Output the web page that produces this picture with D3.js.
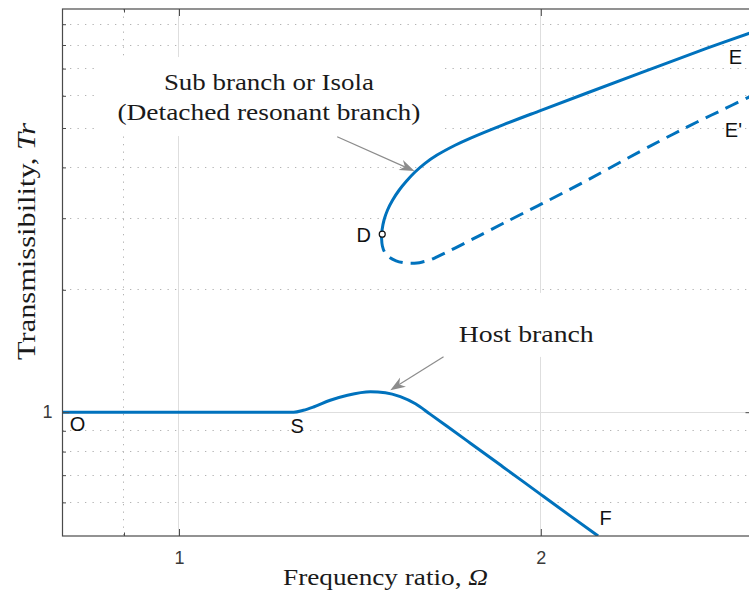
<!DOCTYPE html>
<html>
<head>
<meta charset="utf-8">
<script src="https://cdn.jsdelivr.net/npm/d3@7"></script>
<style>
  html, body { margin: 0; padding: 0; background: #fff; }
  svg { display: block; }
</style>
</head>
<body>
<svg id="chart" width="749" height="598"></svg>
<script>
// ---- axis limits and ticks (log–log) ----
const xLimits = [0.8, 3];
const yLimits = [0.496, 9.81];
const xMajorTicks = [1, 2];
const xMinorTicks = [0.9];
const yMajorTicks = [1];
const yMinorTicks = [0.6, 0.7, 0.8, 0.9, 2, 3, 4, 5, 6, 7, 8, 9];

// ---- host branch O–S–F ----
const hostOmega = [0.8, 1.2455, 1.269, 1.294, 1.336, 1.381, 1.443, 1.485, 1.528, 1.573, 1.6177, 1.6700, 1.7464, 1.8603, 2.0007, 2.1145, 2.2319];
const hostTr    = [1.0, 1.0, 1.011, 1.030, 1.070, 1.101, 1.123, 1.117, 1.092, 1.0486, 0.9892, 0.9247, 0.8403, 0.7335, 0.6269, 0.5566, 0.496];

// ---- isola: stable part D–E ----
const isolaStableOmega = [1.4741, 1.4755, 1.4811, 1.4911, 1.5058, 1.5249, 1.5464, 1.5717, 1.6021, 1.6394, 1.6970, 1.7464, 1.8603, 2.0007, 2.1849, 2.4182, 2.7502, 3.0];
const isolaStableTr    = [2.6822, 2.8064, 2.9698, 3.1427, 3.3256, 3.5194, 3.7034, 3.8970, 4.0937, 4.2895, 4.5353, 4.7166, 5.0914, 5.5264, 6.0954, 6.8191, 7.8572, 8.6096];

// ---- isola: unstable part D–E' ----
const isolaUnstableOmega = [1.4741, 1.4764, 1.4834, 1.4969, 1.5156, 1.5361, 1.5569, 1.5779, 1.5961, 1.6177, 1.6394, 1.6646, 1.6970, 1.7354, 1.7802, 1.8614, 2.0007, 2.1849, 2.4182, 2.5763, 2.6981, 2.8355, 2.9743, 3.0];
const isolaUnstableTr    = [2.6822, 2.5632, 2.4705, 2.4015, 2.3570, 2.3331, 2.3238, 2.3278, 2.3436, 2.3690, 2.4097, 2.4621, 2.5329, 2.6203, 2.7231, 2.9148, 3.2475, 3.7182, 4.3766, 4.8274, 5.1728, 5.5514, 5.9420, 6.0165];

// ---- saddle-node point D ----
const pointD = [1.476, 2.74];

// ---- point labels (baseline-left anchor in data units) ----
const pointLabels     = ["O", "S", "D", "E", "E'", "F"];
const pointLabelOmega = [0.811, 1.238, 1.405, 2.866, 2.845, 2.238];
const pointLabelTr    = [0.898, 0.888, 2.620, 7.184, 4.750, 0.527];

// ---- callouts ----
const calloutLines  = [["Sub branch or Isola", "(Detached resonant branch)"], ["Host branch"]];
const calloutAnchor = [[1.188, 6.199], [1.945, 1.489]];            // centre of first baseline
const calloutTail   = [[1.354, 4.758], [1.660, 1.368]];
const calloutTip    = [[1.570, 3.917], [1.499, 1.133]];

// ================= drawing =================
const W = 749, H = 598;
const plot = { left: 62.5, right: 752.5, top: 9, bottom: 536 };
const serif = "'Liberation Serif', 'Times New Roman', serif";
const sans = "'Liberation Sans', Arial, Helvetica, sans-serif";
const blue = "#0072bd";

const x = d3.scaleLog().domain(xLimits).range([plot.left, plot.right]);
const y = d3.scaleLog().domain(yLimits).range([plot.bottom, plot.top]);
const snap = v => Math.round(v - 0.5) + 0.5;

const svg = d3.select("#chart");
svg.append("rect").attr("width", W).attr("height", H).attr("fill", "#fff");

svg.append("defs").append("clipPath").attr("id", "plot-clip")
  .append("rect")
  .attr("x", plot.left).attr("y", plot.top)
  .attr("width", plot.right - plot.left).attr("height", plot.bottom - plot.top);

// ---- grid ----
const grid = svg.append("g").attr("clip-path", "url(#plot-clip)");
grid.selectAll("line.vminor").data(xMinorTicks).join("line")
  .attr("class", "vminor")
  .attr("x1", d => snap(x(d))).attr("x2", d => snap(x(d)))
  .attr("y1", plot.top).attr("y2", plot.bottom)
  .attr("stroke", "#b3b3b3").attr("stroke-width", 1).attr("stroke-dasharray", "1.3 6.2");
grid.selectAll("line.hminor").data(yMinorTicks).join("line")
  .attr("class", "hminor")
  .attr("x1", plot.left).attr("x2", plot.right)
  .attr("y1", d => snap(y(d))).attr("y2", d => snap(y(d)))
  .attr("stroke", "#b3b3b3").attr("stroke-width", 1).attr("stroke-dasharray", "1.3 6.2");
grid.selectAll("line.vmajor").data(xMajorTicks).join("line")
  .attr("class", "vmajor")
  .attr("x1", d => snap(x(d))).attr("x2", d => snap(x(d)))
  .attr("y1", plot.top).attr("y2", plot.bottom)
  .attr("stroke", "#dedede").attr("stroke-width", 1);
grid.selectAll("line.hmajor").data(yMajorTicks).join("line")
  .attr("class", "hmajor")
  .attr("x1", plot.left).attr("x2", plot.right)
  .attr("y1", d => snap(y(d))).attr("y2", d => snap(y(d)))
  .attr("stroke", "#dedede").attr("stroke-width", 1);

// ---- callout text with white backing boxes ----
const calloutWidths = [[210, 303], [135]];
const calloutPad = [{ l: 18, r: 20, t: 12, b: 11 }, { l: 18, r: 18, t: 28, b: 10 }];
const callouts = svg.append("g");
calloutLines.forEach((lines, i) => {
  const g = callouts.append("g");
  const box = g.append("rect").attr("fill", "#fff");
  const tg = g.append("g");
  lines.forEach((s, j) => {
    tg.append("text")
      .attr("x", x(calloutAnchor[i][0]))
      .attr("y", y(calloutAnchor[i][1]) + j * 30)
      .attr("text-anchor", "middle")
      .attr("font-family", serif).attr("font-size", 24).attr("fill", "#1a1a1a")
      .attr("textLength", calloutWidths[i][j]).attr("lengthAdjust", "spacingAndGlyphs")
      .text(s);
  });
  const bb = tg.node().getBBox();
  const p = calloutPad[i];
  box.attr("x", bb.x - p.l).attr("y", bb.y - p.t)
     .attr("width", bb.width + p.l + p.r).attr("height", bb.height + p.t + p.b);
});

// ---- curves ----
const curves = svg.append("g").attr("clip-path", "url(#plot-clip)");
const lineMono = d3.line().x(d => x(d[0])).y(d => y(d[1])).curve(d3.curveMonotoneX);
const lineSmooth = d3.line().x(d => x(d[0])).y(d => y(d[1])).curve(d3.curveCatmullRom.alpha(0.5));

curves.append("path").datum(d3.zip(hostOmega, hostTr))
  .attr("d", lineMono).attr("fill", "none")
  .attr("stroke", blue).attr("stroke-width", 3).attr("stroke-linejoin", "round");
curves.append("path").datum(d3.zip(isolaStableOmega, isolaStableTr))
  .attr("d", lineSmooth).attr("fill", "none")
  .attr("stroke", blue).attr("stroke-width", 3).attr("stroke-linejoin", "round");
curves.append("path").datum(d3.zip(isolaUnstableOmega, isolaUnstableTr))
  .attr("d", lineSmooth).attr("fill", "none")
  .attr("stroke", blue).attr("stroke-width", 3).attr("stroke-dasharray", "14 8");

// ---- callout arrows ----
function arrowHead(tip, tail, len, half) {
  const dx = tip[0] - tail[0], dy = tip[1] - tail[1];
  const l = Math.hypot(dx, dy), ux = dx / l, uy = dy / l, nx = -uy, ny = ux;
  const bx = tip[0] - ux * len, by = tip[1] - uy * len;
  const mx = tip[0] - ux * len * 0.7, my = tip[1] - uy * len * 0.7;
  return { d: `M${tip[0]},${tip[1]}L${bx + nx * half},${by + ny * half}L${mx},${my}L${bx - nx * half},${by - ny * half}Z`, notch: [mx, my] };
}
const arrows = svg.append("g");
calloutTail.forEach((t, i) => {
  const tail = [x(t[0]), y(t[1])];
  const tip = [x(calloutTip[i][0]), y(calloutTip[i][1])];
  const head = arrowHead(tip, tail, 15, 5.5);
  arrows.append("line")
    .attr("x1", tail[0]).attr("y1", tail[1]).attr("x2", head.notch[0]).attr("y2", head.notch[1])
    .attr("stroke", "#8c8c8c").attr("stroke-width", 1.2);
  arrows.append("path").attr("d", head.d).attr("fill", "#8c8c8c");
});

// ---- marker at D ----
svg.append("circle")
  .attr("cx", x(pointD[0])).attr("cy", y(pointD[1])).attr("r", 3)
  .attr("fill", "#fff").attr("stroke", "#111").attr("stroke-width", 1.2);

// ---- point labels ----
svg.append("g").selectAll("text").data(pointLabels).join("text")
  .attr("x", (d, i) => x(pointLabelOmega[i]))
  .attr("y", (d, i) => y(pointLabelTr[i]))
  .attr("font-family", sans).attr("font-size", 20).attr("fill", "#111")
  .text(d => d);

// ---- axes: frame, ticks pointing inward ----
const axisColor = "#4a4a4a";
function styleAxis(g) {
  g.select(".domain").remove();
  g.selectAll(".tick line").attr("stroke", axisColor);
  g.selectAll(".tick text").attr("font-family", sans).attr("font-size", 18).attr("fill", "#3a3a3a");
}
const fmt = d3.format("d");

svg.append("g").attr("transform", `translate(0,${plot.bottom})`)
  .call(d3.axisBottom(x).tickValues(xMajorTicks).tickFormat(fmt).tickSize(-7).tickPadding(15)).call(styleAxis);
svg.append("g").attr("transform", `translate(0,${plot.bottom})`)
  .call(d3.axisBottom(x).tickValues(xMinorTicks).tickFormat("").tickSize(-3.5)).call(styleAxis);
svg.append("g").attr("transform", `translate(0,${plot.top})`)
  .call(d3.axisTop(x).tickValues(xMajorTicks).tickFormat("").tickSize(-7)).call(styleAxis);
svg.append("g").attr("transform", `translate(0,${plot.top})`)
  .call(d3.axisTop(x).tickValues(xMinorTicks).tickFormat("").tickSize(-3.5)).call(styleAxis);

svg.append("g").attr("transform", `translate(${plot.left},0)`)
  .call(d3.axisLeft(y).tickValues(yMajorTicks).tickFormat(fmt).tickSize(-7).tickPadding(10)).call(styleAxis);
svg.append("g").attr("transform", `translate(${plot.left},0)`)
  .call(d3.axisLeft(y).tickValues(yMinorTicks).tickFormat("").tickSize(-3.5)).call(styleAxis);
svg.append("g").attr("transform", `translate(${plot.right},0)`)
  .call(d3.axisRight(y).tickValues(yMajorTicks).tickFormat("").tickSize(-7)).call(styleAxis);
svg.append("g").attr("transform", `translate(${plot.right},0)`)
  .call(d3.axisRight(y).tickValues(yMinorTicks).tickFormat("").tickSize(-3.5)).call(styleAxis);

svg.append("rect")
  .attr("x", plot.left).attr("y", plot.top)
  .attr("width", plot.right - plot.left).attr("height", plot.bottom - plot.top)
  .attr("fill", "none").attr("stroke", axisColor).attr("stroke-width", 1.2);

// ---- axis titles ----
const xTitle = svg.append("text")
  .attr("x", 385.5).attr("y", 585)
  .attr("text-anchor", "middle")
  .attr("font-family", serif).attr("font-size", 24).attr("fill", "#1a1a1a")
  .attr("textLength", 205).attr("lengthAdjust", "spacingAndGlyphs");
xTitle.append("tspan").text("Frequency ratio, ");
xTitle.append("tspan").attr("font-style", "italic").text("Ω");

const yTitle = svg.append("text")
  .attr("transform", "translate(35,241.5) rotate(-90)")
  .attr("text-anchor", "middle")
  .attr("font-family", serif).attr("font-size", 26).attr("fill", "#1a1a1a")
  .attr("textLength", 237).attr("lengthAdjust", "spacingAndGlyphs");
yTitle.append("tspan").text("Transmissibility, ");
yTitle.append("tspan").attr("font-style", "italic").text("Tr");
</script>
</body>
</html>
